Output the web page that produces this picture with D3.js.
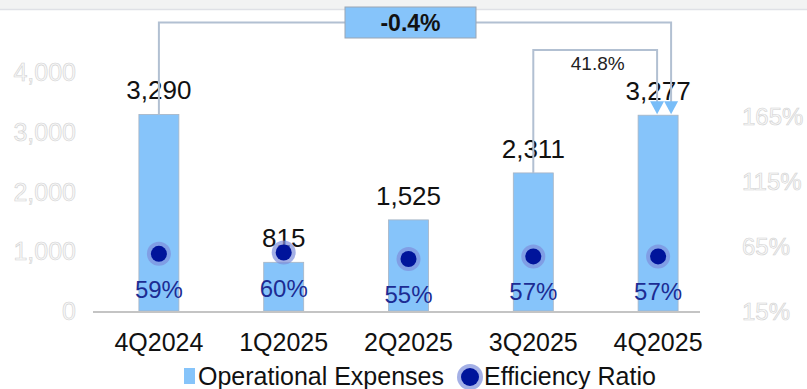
<!DOCTYPE html>
<html>
<head>
<meta charset="utf-8">
<script src="https://cdn.jsdelivr.net/npm/d3@7"></script>
<style>
  body { margin: 0; background: #fff; }
  text { font-family: "Liberation Sans", Arial, sans-serif; }
</style>
</head>
<body>
<div id="vis"></div>
<script>
var quarters = ["4Q2024", "1Q2025", "2Q2025", "3Q2025", "4Q2025"],
    opex = [3290, 815, 1525, 2311, 3277],
    efficiency = [59, 60, 55, 57, 57],
    leftTicks = [0, 1000, 2000, 3000, 4000],
    rightTicks = [15, 65, 115, 165],
    yoyChange = "-0.4%",
    qoqChange = "41.8%";

var width = 807,
    height = 389;

var svg = d3.select("#vis").append("svg")
    .attr("width", width)
    .attr("height", height);

// top strip (cut-off header)
svg.append("rect")
    .attr("x", 0).attr("y", 0)
    .attr("width", width).attr("height", 9)
    .attr("fill", "#f2f3f3");
svg.append("line")
    .attr("x1", 0).attr("x2", width)
    .attr("y1", 9.5).attr("y2", 9.5)
    .attr("stroke", "#dfe1e6")
    .attr("stroke-width", 1.5);

var x = d3.scalePoint()
    .domain(quarters)
    .range([96.5, 720.5])
    .padding(0.5);

var y = d3.scaleLinear()
    .domain([0, 4000])
    .range([311, 72]);

var y2 = d3.scaleLinear()
    .domain([15, 165])
    .range([311, 116]);

var barW = 40;

// axis labels, faded
svg.append("g").selectAll("text")
    .data(leftTicks)
    .enter().append("text")
    .attr("x", 76)
    .attr("y", function(d) { return y(d) + 9; })
    .attr("text-anchor", "end")
    .attr("font-size", 25)
    .attr("fill", "#f8f8f8")
    .attr("stroke", "#d2d2d2")
    .attr("stroke-width", 0.6)
    .text(d3.format(","));

svg.append("g").selectAll("text")
    .data(rightTicks)
    .enter().append("text")
    .attr("x", 742)
    .attr("y", function(d) { return y2(d) + 9; })
    .attr("font-size", 24)
    .attr("fill", "#f8f8f8")
    .attr("stroke", "#d2d2d2")
    .attr("stroke-width", 0.6)
    .text(function(d) { return d + "%"; });

// bars
svg.append("g").selectAll("rect")
    .data(opex)
    .enter().append("rect")
    .attr("x", function(d, i) { return x(quarters[i]) - barW / 2; })
    .attr("y", function(d) { return y(d); })
    .attr("width", barW)
    .attr("height", function(d) { return y(0) - y(d); })
    .attr("fill", "#86c4fa")
    .attr("stroke", "#a9b4c2")
    .attr("stroke-width", 0.8);

// baseline
svg.append("line")
    .attr("x1", 93).attr("x2", 700)
    .attr("y1", y(0) + 1).attr("y2", y(0) + 1)
    .attr("stroke", "#c4c4c4")
    .attr("stroke-width", 2);

// value labels
svg.append("g").selectAll("text")
    .data(opex)
    .enter().append("text")
    .attr("x", function(d, i) { return x(quarters[i]); })
    .attr("y", function(d) { return y(d) - 15; })
    .attr("text-anchor", "middle")
    .attr("font-size", 26)
    .attr("fill", "#111")
    .text(d3.format(","));

// efficiency dots
var dots = svg.append("g").selectAll("g")
    .data(efficiency)
    .enter().append("g")
    .attr("transform", function(d, i) {
        return "translate(" + x(quarters[i]) + "," + y2(d) + ")";
    });

dots.append("circle")
    .attr("r", 12)
    .attr("fill", "#7d8fdc")
    .attr("fill-opacity", 0.7);
dots.append("circle")
    .attr("r", 8)
    .attr("fill", "#00149b");
dots.append("text")
    .attr("y", 44)
    .attr("text-anchor", "middle")
    .attr("font-size", 24)
    .attr("fill", "#1c2c93")
    .text(function(d) { return d + "%"; });

// category labels
svg.append("g").selectAll("text")
    .data(quarters)
    .enter().append("text")
    .attr("x", function(d) { return x(d); })
    .attr("y", 351)
    .attr("text-anchor", "middle")
    .attr("font-size", 25)
    .attr("fill", "#111")
    .text(function(d) { return d; });

// connectors
var lineColor = "#b2c0d2",
    last = quarters.length - 1,
    xFirst = x(quarters[0]),
    xThird = x(quarters[3]),
    xLast = x(quarters[last]),
    arrowTip = y(opex[last]) - 1,
    boxX = 345, boxW = 131, boxY = 7, boxH = 31;

var conn = svg.append("g")
    .attr("fill", "none")
    .attr("stroke", lineColor)
    .attr("stroke-width", 2);

conn.append("path")
    .attr("d", "M" + [boxX, boxY + boxH / 2] + "H" + xFirst + "V" + y(opex[0]));
conn.append("path")
    .attr("d", "M" + [boxX + boxW, boxY + boxH / 2] + "H" + (xLast + 13) + "V" + (arrowTip - 12));
conn.append("path")
    .attr("d", "M" + [xThird, y(opex[3])] + "V50H" + (xLast - 1) + "V" + (arrowTip - 12));

svg.append("g").selectAll("path")
    .data([xLast - 1, xLast + 13])
    .enter().append("path")
    .attr("fill", "#78bdf8")
    .attr("d", function(d) {
        return "M" + [d - 7, arrowTip - 13] + "L" + [d + 7, arrowTip - 13] + "L" + [d, arrowTip] + "Z";
    });

svg.append("text")
    .attr("x", (xThird + xLast) / 2 + 2)
    .attr("y", 70)
    .attr("text-anchor", "middle")
    .attr("font-size", 19)
    .attr("fill", "#222")
    .text(qoqChange);

svg.append("rect")
    .attr("x", boxX).attr("y", boxY)
    .attr("width", boxW).attr("height", boxH)
    .attr("fill", "#86c4fa")
    .attr("stroke", "#9aa6b4")
    .attr("stroke-width", 1);
svg.append("text")
    .attr("x", boxX + boxW / 2)
    .attr("y", boxY + boxH / 2 + 8)
    .attr("text-anchor", "middle")
    .attr("font-size", 23)
    .attr("font-weight", "bold")
    .attr("fill", "#111")
    .text(yoyChange);

// legend
var legend = svg.append("g");
legend.append("rect")
    .attr("x", 184).attr("y", 368)
    .attr("width", 11).attr("height", 16)
    .attr("fill", "#86c4fa");
legend.append("text")
    .attr("x", 198).attr("y", 385)
    .attr("font-size", 25)
    .attr("fill", "#111")
    .text("Operational Expenses");
legend.append("circle")
    .attr("cx", 470).attr("cy", 377)
    .attr("r", 13)
    .attr("fill", "#7d8fdc")
    .attr("fill-opacity", 0.7);
legend.append("circle")
    .attr("cx", 470).attr("cy", 377)
    .attr("r", 9)
    .attr("fill", "#00149b");
legend.append("text")
    .attr("x", 484).attr("y", 385)
    .attr("font-size", 25)
    .attr("fill", "#111")
    .text("Efficiency Ratio");
</script>
</body>
</html>
